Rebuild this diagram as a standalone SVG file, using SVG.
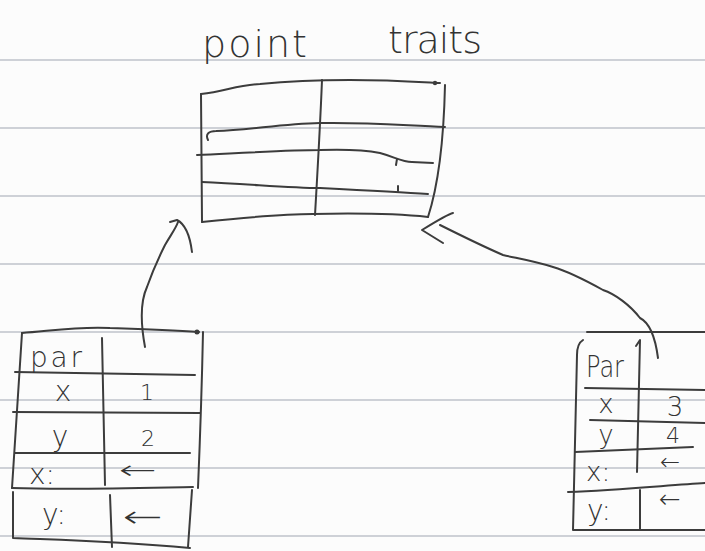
<svg xmlns="http://www.w3.org/2000/svg" width="705" height="551" viewBox="0 0 705 551">
<defs>
<style>
.paper{fill:#fcfcfc}
.rule{stroke:#bfc3cb;stroke-width:1.5;fill:none}
.ink{stroke:#3c3c3c;stroke-width:2;fill:none;stroke-linecap:round;stroke-linejoin:round}
.t{font-family:"DejaVu Sans ExtraLight","DejaVu Sans","Liberation Sans",sans-serif;font-weight:200;fill:#333}
.ar{font-family:"DejaVu Sans ExtraLight","DejaVu Sans",sans-serif;font-weight:200;fill:#333}
</style>
</defs>
<rect class="paper" x="0" y="0" width="705" height="551"/>
<g id="paper-rules">
<line class="rule" x1="0" y1="60" x2="705" y2="60"/>
<line class="rule" x1="0" y1="128" x2="705" y2="128"/>
<line class="rule" x1="0" y1="196" x2="705" y2="196"/>
<line class="rule" x1="0" y1="264" x2="705" y2="264"/>
<line class="rule" x1="0" y1="332" x2="705" y2="332"/>
<line class="rule" x1="0" y1="400" x2="705" y2="400"/>
<line class="rule" x1="0" y1="468" x2="705" y2="468"/>
<line class="rule" x1="0" y1="536" x2="705" y2="536"/>
</g>
<g id="point-traits">
<text class="t" x="202" y="57" font-size="38" textLength="105" lengthAdjust="spacing">point</text>
<text class="t" x="388" y="53" font-size="38" textLength="94" lengthAdjust="spacing">traits</text>
<path class="ink" d="M201,94 C225,92 235,85 260,84 C290,81 320,80 350,80 C390,80 420,82 440,83"/>
<circle cx="435" cy="83" r="2.2" fill="#3c3c3c"/>
<path class="ink" d="M445,85 C444,130 440,180 428,217"/>
<path class="ink" d="M202,222 C240,218 280,214 313,214 C360,213 400,214 428,217"/>
<path class="ink" d="M201,94 L202,222"/>
<path class="ink" d="M322,80 C320,130 317,180 315,215"/>
<path class="ink" d="M208,140 C205,134 209,131 216,131 C250,130 280,124 320,123 C370,122 410,126 445,127"/>
<path class="ink" d="M197,155 C240,153 290,150 320,150 C350,149 370,151 380,153 C395,157 402,162 412,162 L433,163"/>
<path class="ink" d="M397,159 L396,165"/>
<path class="ink" d="M202,182 C250,184 290,188 320,188 C360,190 400,192 428,194"/>
<path class="ink" d="M398,186 L398,191"/>
</g>
<g id="left-object">
<path class="ink" d="M22,333 C50,331 80,326 110,328 C140,329 170,330 199,332"/>
<circle cx="197" cy="332" r="2.5" fill="#3c3c3c"/>
<path class="ink" d="M203,332 C202,380 200,440 198,488"/>
<path class="ink" d="M22,333 C18,400 14,450 12,488"/>
<path class="ink" d="M12,488 C70,490 140,488 193,487"/>
<path class="ink" d="M13,492 L13,538 C60,540 110,541 190,548"/>
<path class="ink" d="M192,490 L188,547"/>
<path class="ink" d="M102,338 L105,485"/>
<path class="ink" d="M110,495 L112,547"/>
<path class="ink" d="M15,372 L195,375"/>
<path class="ink" d="M13,412 L200,413"/>
<path class="ink" d="M15,453 L190,453"/>
<text class="t" x="30" y="367" font-size="28" textLength="52" lengthAdjust="spacing">par</text>
<text class="t" x="63" y="401" font-size="28" text-anchor="middle">x</text>
<text class="t" x="147" y="400" font-size="22" text-anchor="middle">1</text>
<text class="t" x="60" y="446" font-size="28" text-anchor="middle">y</text>
<text class="t" x="148" y="446" font-size="22" text-anchor="middle">2</text>
<text class="t" x="29" y="484" font-size="28">x:</text>
<text class="ar" x="119" y="479" font-size="26" textLength="38" lengthAdjust="spacingAndGlyphs">←</text>
<text class="t" x="42" y="524" font-size="28">y:</text>
<text class="ar" x="123" y="527" font-size="30" textLength="40" lengthAdjust="spacingAndGlyphs">←</text>
</g>
<g id="right-object">
<path class="ink" d="M587,332 L705,332"/>
<path class="ink" d="M583,340 C578,343 577,348 577,355 L573,530 L705,530"/>
<path class="ink" d="M636,346 L640,340 L637,472"/>
<path class="ink" d="M640,490 L640,530"/>
<path class="ink" d="M585,388 L705,390"/>
<path class="ink" d="M590,420 L705,423"/>
<path class="ink" d="M575,452 L693,447"/>
<path class="ink" d="M568,492 C620,490 670,485 705,483"/>
<text class="t" x="586" y="377" font-size="30" textLength="38" lengthAdjust="spacingAndGlyphs">Par</text>
<text class="t" x="606" y="413" font-size="26" text-anchor="middle">x</text>
<text class="t" x="675" y="416" font-size="26" text-anchor="middle">3</text>
<text class="t" x="606" y="444" font-size="26" text-anchor="middle">y</text>
<text class="t" x="673" y="443" font-size="22" text-anchor="middle">4</text>
<text class="t" x="586" y="481" font-size="26">x:</text>
<text class="ar" x="670" y="470" font-size="24" text-anchor="middle">←</text>
<text class="t" x="587" y="520" font-size="28">y:</text>
<text class="ar" x="670" y="508" font-size="26" text-anchor="middle">←</text>
</g>
<g id="connectors">
<path class="ink" d="M145,347 C140,320 141,300 147,287 C153,270 160,255 165,245 C172,233 176,228 178,222"/>
<path class="ink" d="M170,222 L177,220 C185,224 190,236 192,252"/>
<path class="ink" d="M658,358 C655,335 648,322 640,318 C630,305 615,294 603,290 C585,280 570,272 553,267 C530,260 515,258 503,255 C480,245 460,235 440,225"/>
<path class="ink" d="M453,213 C448,214 435,222 422,230 L443,243"/>
</g>
</svg>
